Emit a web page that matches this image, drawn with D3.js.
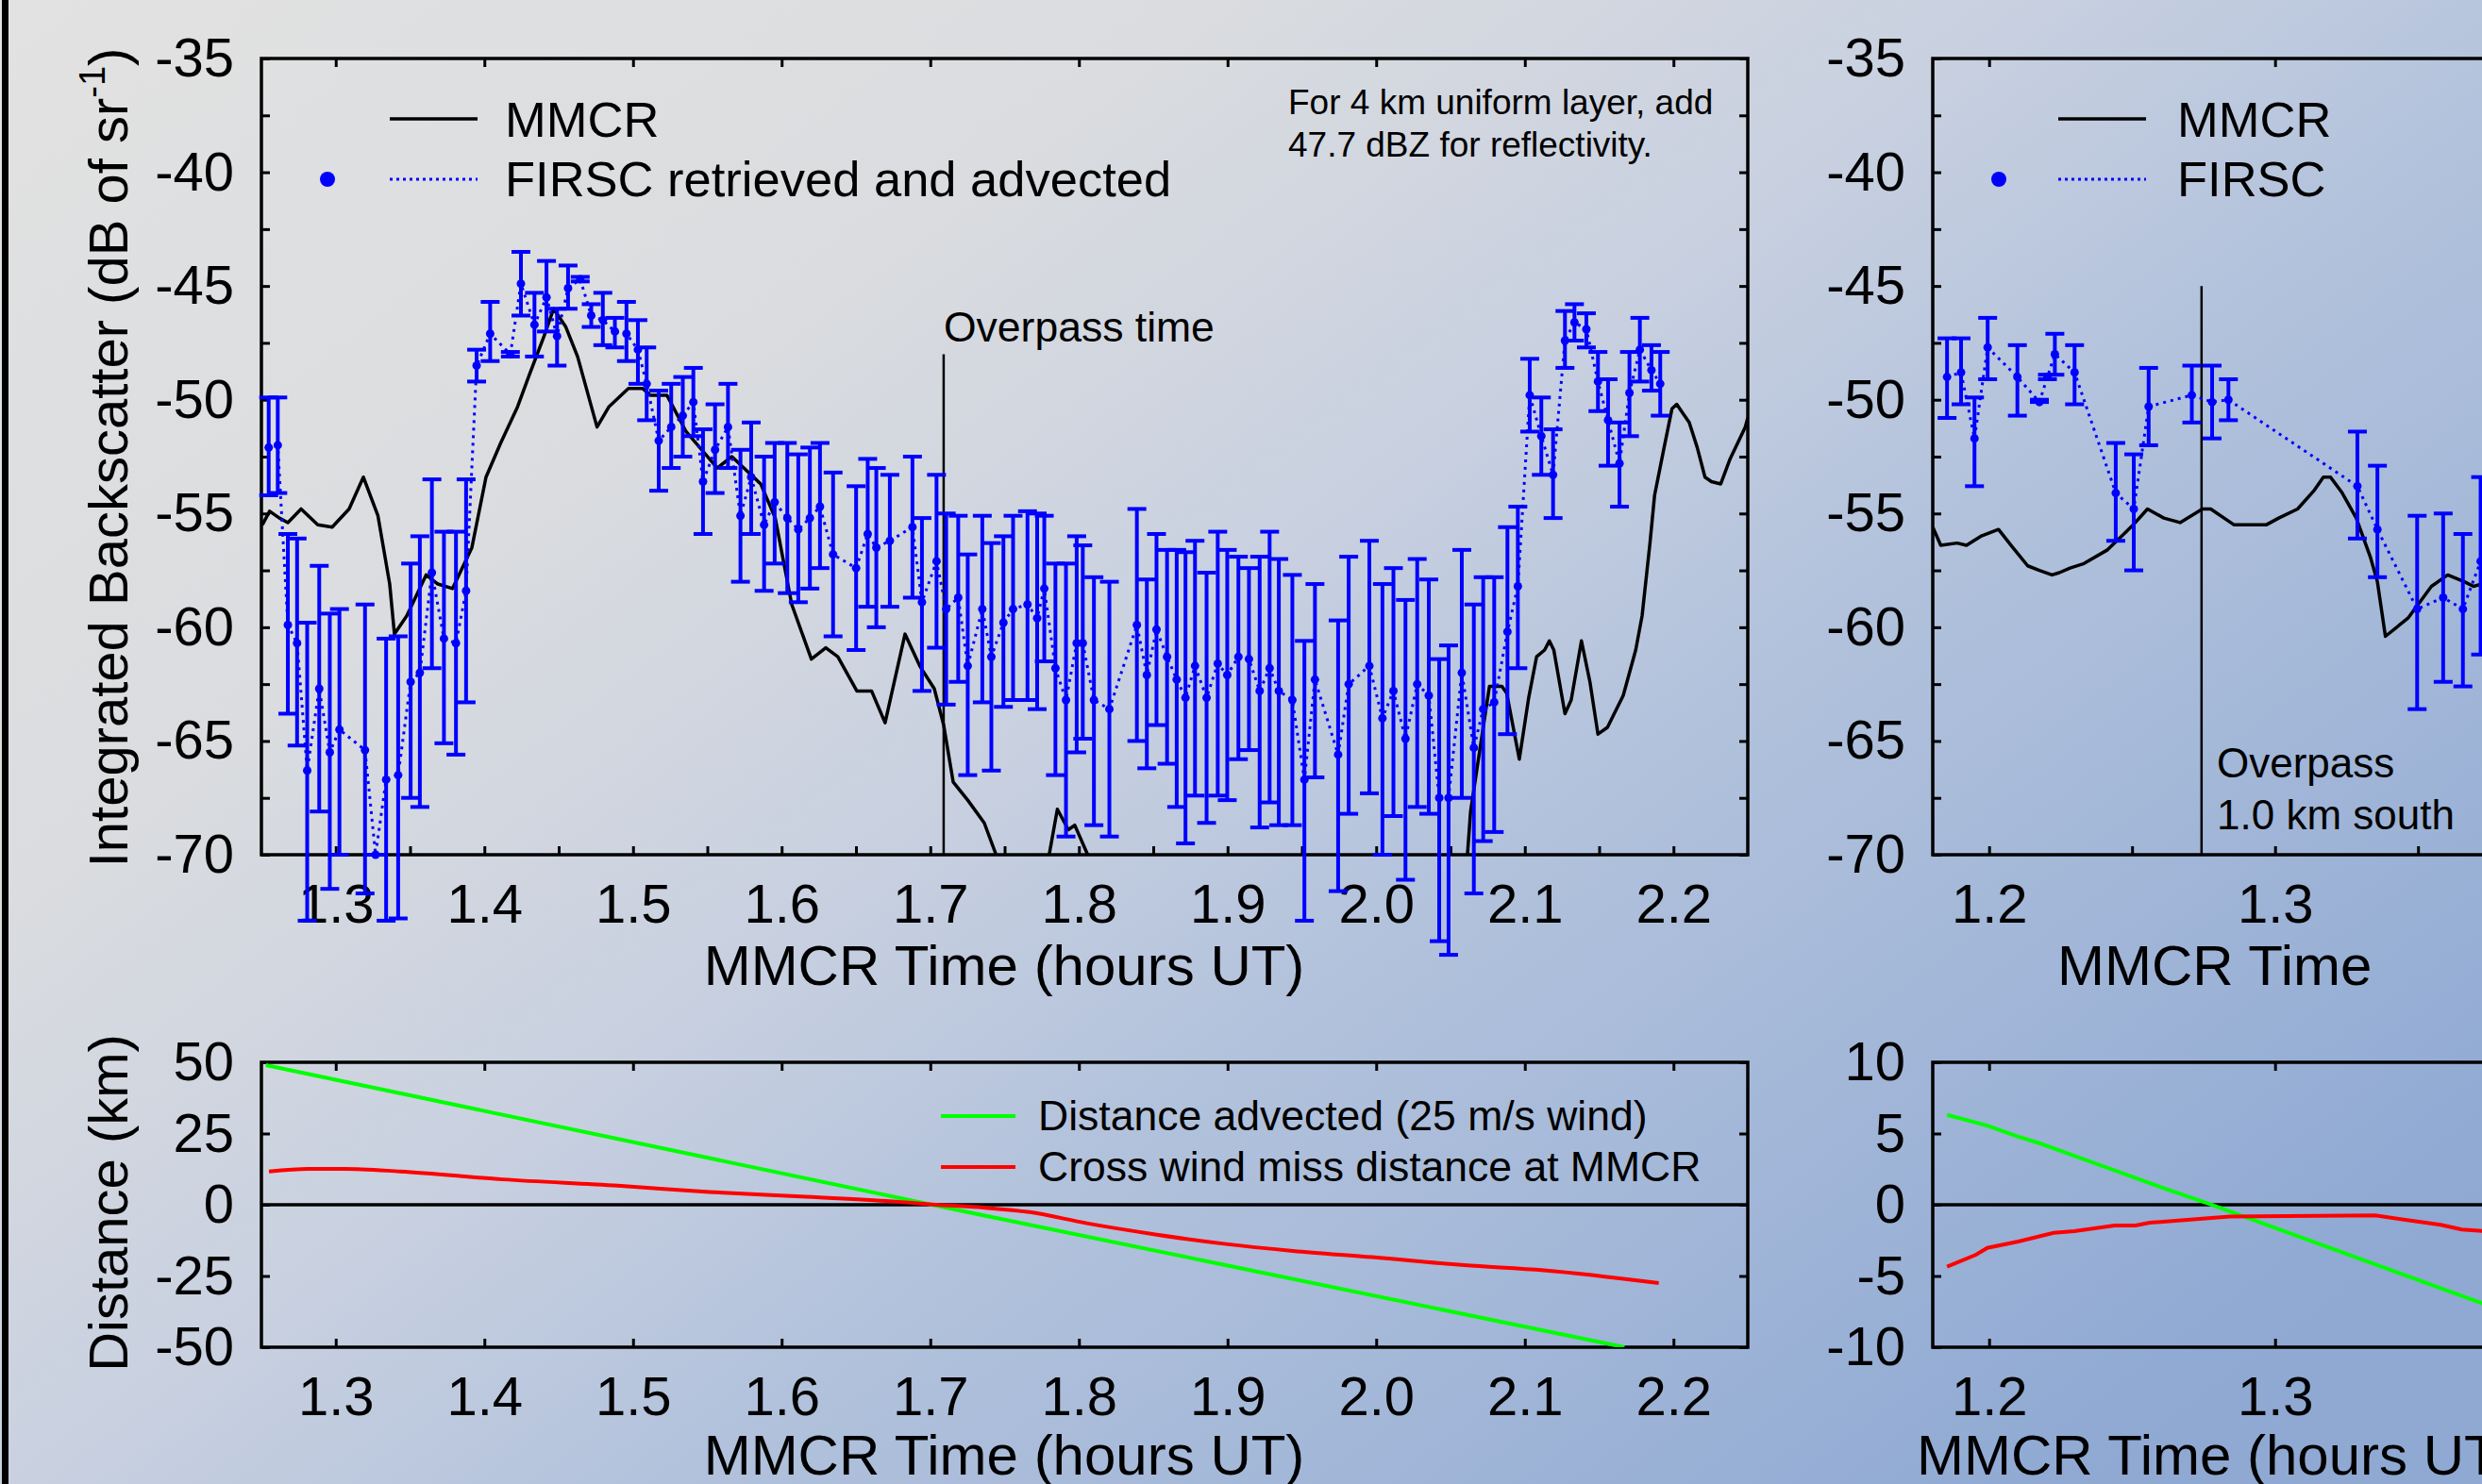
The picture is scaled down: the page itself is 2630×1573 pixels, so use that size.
<!DOCTYPE html>
<html>
<head>
<meta charset="utf-8">
<script src="https://cdnjs.cloudflare.com/ajax/libs/d3/7.8.5/d3.min.js"></script>
<style>
  html, body { margin: 0; padding: 0; overflow: hidden; }
  svg { display: block; font-family: "Liberation Sans", Arial, sans-serif; }
</style>
</head>
<body>
<svg id="chart" width="2630" height="1573"></svg>
<script>
// ---- main panel: MMCR integrated backscatter (dB)
const mmcrTime = [1.2506,1.2555,1.2621,1.2678,1.2767,1.2879,1.2976,1.3090,1.3186,1.3284,
  1.3363,1.3395,1.3478,1.3608,1.3687,1.3786,1.3916,1.4011,1.4110,1.4224,
  1.4303,1.4402,1.4466,1.4548,1.4627,1.4758,1.4839,1.4969,1.5065,1.5115,
  1.5228,1.5357,1.5567,1.5665,1.5859,1.5957,1.6068,1.6200,1.6297,1.6378,
  1.6506,1.6605,1.6696,1.6830,1.6929,1.7027,1.7090,1.7154,1.7252,1.7363,
  1.7443,1.7522,1.7725,1.7800,1.7855,1.7929,1.7972,1.8059,1.8138,2.0519,
  2.0614,2.0635,2.0720,2.0762,2.0846,2.0878,2.0963,2.1026,2.1079,2.1133,
  2.1165,2.1195,2.1270,2.1312,2.1381,2.1438,2.1492,2.1556,2.1662,2.1746,
  2.1789,2.1842,2.1873,2.1937,2.1990,2.2022,2.2064,2.2106,2.2160,2.2212,
  2.2255,2.2318,2.2381,2.2483,2.2500];
const mmcrDb = [-55.5,-54.9,-55.2,-55.4,-54.8,-55.5,-55.6,-54.8,-53.4,-55.1,
  -58.1,-60.3,-59.5,-57.7,-58.1,-58.3,-56.5,-53.4,-51.9,-50.3,
  -48.9,-47.2,-46.0,-46.8,-48.1,-51.2,-50.3,-49.5,-49.5,-49.8,
  -49.8,-51.4,-53.0,-52.5,-53.7,-55.2,-59.0,-61.4,-60.9,-61.3,
  -62.8,-62.8,-64.2,-60.3,-61.7,-62.7,-64.3,-66.8,-67.6,-68.6,
  -70.0,-71.5,-72.0,-70.0,-68.0,-68.9,-68.7,-70.0,-72.0,-72.0,
  -70.0,-68.1,-64.4,-62.6,-62.6,-62.9,-65.8,-63.1,-61.3,-61.0,
  -60.6,-61.0,-63.8,-63.2,-60.6,-62.4,-64.7,-64.4,-63.0,-61.0,
  -59.5,-56.3,-54.2,-52.1,-50.4,-50.2,-50.6,-51.0,-52.1,-53.4,
  -53.6,-53.7,-52.6,-51.2,-50.8];

// ---- main panel: FIRSC retrieved and advected (value, upper, lower)
const firscTime = [1.2549,1.2610,1.2678,1.2740,1.2808,1.2889,1.2960,1.3025,1.3197,1.3268,
  1.3339,1.3420,1.3504,1.3566,1.3647,1.3728,1.3809,1.3877,1.3948,1.4039,
  1.4175,1.4246,1.4337,1.4418,1.4489,1.4563,1.4645,1.4719,1.4797,1.4878,
  1.4956,1.5033,1.5092,1.5173,1.5257,1.5335,1.5406,1.5471,1.5552,1.5639,
  1.5723,1.5795,1.5882,1.5953,1.6038,1.6112,1.6190,1.6258,1.6346,1.6501,
  1.6579,1.6637,1.6728,1.6880,1.6944,1.7042,1.7107,1.7188,1.7252,1.7350,
  1.7411,1.7492,1.7557,1.7654,1.7719,1.7767,1.7842,1.7913,1.7985,1.8026,
  1.8101,1.8205,1.8390,1.8457,1.8522,1.8593,1.8658,1.8717,1.8781,1.8859,
  1.8934,1.8998,1.9073,1.9144,1.9216,1.9283,1.9345,1.9436,1.9517,1.9588,
  1.9744,1.9815,1.9954,2.0042,2.0116,2.0197,2.0276,2.0354,2.0424,2.0487,
  2.0576,2.0657,2.0720,2.0794,2.0883,2.0953,2.1033,2.1111,2.1190,2.1270,
  2.1334,2.1414,2.1492,2.1560,2.1637,2.1704,2.1774,2.1852,2.1911];
const firscDb = [-52.1,-52.0,-59.9,-60.7,-66.3,-62.7,-65.5,-64.5,-65.4,-70.0,
  -66.7,-66.5,-62.4,-62.0,-57.6,-60.5,-60.7,-58.4,-48.5,-47.1,
  -48.0,-44.9,-46.7,-45.5,-47.2,-45.1,-44.7,-46.3,-46.5,-47.0,
  -47.1,-47.8,-49.3,-51.8,-51.2,-50.7,-50.1,-53.6,-52.2,-51.2,
  -55.1,-53.4,-55.5,-54.5,-55.2,-55.7,-55.2,-54.7,-56.8,-57.4,
  -55.9,-56.5,-56.2,-55.6,-58.9,-57.1,-59.2,-58.7,-61.7,-59.2,
  -61.3,-59.8,-59.2,-59.0,-59.6,-58.3,-61.8,-63.2,-60.7,-60.7,
  -63.2,-63.6,-59.9,-62.1,-60.1,-61.3,-62.3,-63.1,-61.7,-63.1,
  -61.6,-62.1,-61.3,-61.4,-62.8,-61.8,-62.8,-63.2,-66.7,-62.3,
  -65.6,-62.5,-61.7,-64.0,-62.8,-64.9,-62.5,-63.0,-67.5,-67.5,
  -62.0,-65.3,-63.6,-63.3,-60.2,-58.2,-49.8,-51.6,-53.3,-47.4,
  -46.6,-46.9,-49.2,-50.9,-52.8,-49.7,-47.8,-48.7,-49.3];
const firscHigh = [-49.9,-49.9,-55.9,-56.1,-59.8,-57.3,-59.4,-59.2,-59.0,-70.0,
  -60.5,-60.4,-57.2,-56.0,-53.5,-55.8,-55.8,-53.5,-47.8,-45.7,
  -47.9,-43.5,-45.3,-43.9,-46.0,-44.1,-44.6,-45.8,-45.3,-46.4,
  -45.7,-46.5,-47.7,-49.6,-49.3,-49.0,-48.6,-51.3,-50.2,-49.3,
  -52.2,-51.0,-52.5,-51.9,-51.9,-52.4,-52.1,-51.9,-53.2,-53.8,
  -52.6,-53.0,-53.3,-52.5,-55.2,-53.3,-55.0,-55.1,-56.8,-55.1,
  -56.3,-56.0,-55.1,-54.9,-55.0,-55.1,-57.2,-57.2,-56.0,-56.4,
  -57.8,-58.0,-54.8,-57.9,-55.9,-56.6,-56.6,-56.7,-56.2,-57.6,
  -55.8,-56.6,-56.9,-57.4,-56.9,-55.8,-57.0,-57.7,-60.6,-58.1,
  -59.7,-56.9,-56.2,-58.1,-57.4,-58.8,-57.0,-57.9,-61.4,-60.8,
  -56.6,-59.0,-57.8,-57.8,-55.6,-54.7,-48.2,-49.9,-51.3,-46.1,
  -45.8,-46.2,-47.9,-49.1,-51.0,-47.9,-46.4,-47.6,-47.9];
const firscLow = [-54.2,-54.1,-63.8,-65.2,-72.9,-68.1,-71.5,-70.0,-71.7,-70.0,
  -72.9,-72.8,-67.5,-67.9,-61.8,-65.1,-65.6,-63.3,-49.2,-48.3,
  -48.1,-46.3,-48.1,-47.0,-48.5,-46.0,-44.8,-46.8,-47.6,-47.7,
  -48.3,-49.3,-50.9,-54.0,-53.0,-52.5,-51.6,-55.9,-54.1,-53.0,
  -58.0,-55.9,-58.4,-57.2,-58.5,-58.9,-58.3,-57.4,-60.4,-61.0,
  -59.1,-60.0,-59.1,-58.7,-62.8,-60.9,-63.4,-62.4,-66.5,-63.3,
  -66.3,-63.5,-63.2,-63.2,-63.6,-61.5,-66.5,-69.2,-65.5,-64.9,
  -68.7,-69.2,-65.0,-66.2,-64.3,-66.0,-67.9,-69.5,-67.4,-68.6,
  -67.4,-67.6,-65.8,-65.4,-68.8,-67.7,-68.7,-68.7,-72.9,-66.6,
  -71.6,-68.2,-67.3,-70.0,-68.3,-71.1,-67.9,-68.2,-73.8,-74.4,
  -67.5,-71.7,-69.4,-69.0,-64.7,-61.8,-51.4,-53.3,-55.2,-48.6,
  -47.4,-47.7,-50.5,-52.9,-54.7,-51.6,-49.2,-49.6,-50.7];

// ---- right panel
const rMmcrTime = [1.1803,1.1831,1.1888,1.1921,1.1971,1.2033,1.2077,1.2135,1.2176,1.2220,
  1.2246,1.2283,1.2332,1.2414,1.2463,1.2504,1.2554,1.2611,1.2668,1.2746,
  1.2775,1.2857,1.2923,1.2969,1.3013,1.3079,1.3136,1.3169,1.3194,1.3235,
  1.3284,1.3333,1.3358,1.3386,1.3465,1.3547,1.3604,1.3662,1.3694,1.3724];
const rMmcrDb = [-55.6,-56.4,-56.3,-56.4,-56.0,-55.7,-56.4,-57.3,-57.5,-57.7,
  -57.6,-57.4,-57.2,-56.6,-56.0,-55.5,-54.8,-55.2,-55.4,-54.8,
  -54.8,-55.5,-55.5,-55.5,-55.2,-54.8,-54.0,-53.4,-53.4,-54.1,
  -55.2,-56.9,-58.0,-60.4,-59.6,-58.2,-57.7,-58.0,-58.2,-58.1];
const rFirscTime = [1.1853,1.1902,1.1949,1.1995,1.2099,1.2176,1.2204,1.2230,1.2299,1.2443,
  1.2506,1.2558,1.2709,1.2780,1.2837,1.3288,1.3358,1.3497,1.3588,1.3657,1.3719];
const rFirscDb = [-49.0,-48.8,-51.7,-47.7,-49.0,-50.1,-49.0,-48.0,-48.8,-54.1,
  -54.8,-50.3,-49.8,-50.1,-50.0,-53.8,-55.7,-59.2,-58.7,-59.2,-57.1];
const rFirscHigh = [-47.3,-47.3,-49.9,-46.4,-47.6,-50.0,-48.9,-47.1,-47.6,-51.9,
  -52.4,-48.6,-48.5,-48.5,-49.1,-51.4,-52.9,-55.1,-55.0,-55.9,-53.4];
const rFirscLow = [-50.8,-50.2,-53.8,-49.1,-50.7,-50.1,-49.1,-48.9,-50.2,-56.2,
  -57.5,-52.0,-51.0,-51.7,-50.9,-56.1,-57.8,-63.6,-62.4,-62.6,-61.2];

// ---- distance panels (km)
const advTime = [1.253, 1.701, 2.167];
const advKm = [49, 0, -50];
const missTime = [1.2551,1.2817,1.3052,1.3433,1.4125,1.4897,1.5513,1.6129,1.6744,1.7014,
  1.7357,1.7668,1.8052,1.8513,1.8976,1.9440,1.9976,2.0592,2.1129,2.1901];
const missKm = [11.7,12.6,12.6,11.7,8.9,6.7,4.5,2.9,1.2,0.1,
  -1.0,-2.6,-6.5,-10.4,-13.7,-16.2,-18.4,-21.2,-23.0,-27.5];
const rAdvTime = [1.1853,1.1994,1.2102,1.2176,1.2232,1.2569,1.2775,1.3726,1.3760];
const rAdvKm = [6.31,5.56,4.77,4.32,3.91,1.46,0.02,-6.93,-7.2];
const rMissTime = [1.1853,1.1954,1.1994,1.2102,1.2226,1.2298,1.2439,1.2512,1.2562,1.2841,1.3350,1.3579,1.3653,1.3760];
const rMissKm = [-4.35,-3.51,-3.03,-2.58,-1.97,-1.86,-1.46,-1.46,-1.26,-0.82,-0.75,-1.41,-1.74,-1.88];

// ---- ticks
const mainXMajor = [1.3,1.4,1.5,1.6,1.7,1.8,1.9,2.0,2.1,2.2];
const mainXMinor = [1.3,1.35,1.4,1.45,1.5,1.55,1.6,1.65,1.7,1.75,1.8,1.85,1.9,1.95,2.0,2.05,2.1,2.15,2.2];
const rightXMajor = [1.2,1.3];
const rightXMinor = [1.2,1.25,1.3,1.35];
const dbMajor = [-35,-40,-45,-50,-55,-60,-65,-70];
const dbMinor = [-35,-37.5,-40,-42.5,-45,-47.5,-50,-52.5,-55,-57.5,-60,-62.5,-65,-67.5,-70];
const distTicks = [50,25,0,-25,-50];
const rDistTicks = [10,5,0,-5,-10];

const overpassMain = 1.709, overpassRight = 1.2743;

const W = 2630, H = 1573;
const svg = d3.select('#chart');
const defs = svg.append('defs');

const grad = defs.append('linearGradient').attr('id', 'bg')
  .attr('x1', 0).attr('y1', 0).attr('x2', 1).attr('y2', 0.8);
[[0, '#e2e2e2'], [0.3, '#dadcdf'], [0.5, '#c8d0e0'], [0.65, '#b2c2dc'], [1, '#8fa9d3']]
  .forEach(([o, c]) => grad.append('stop').attr('offset', o).attr('stop-color', c));
svg.append('rect').attr('width', W).attr('height', H).attr('fill', 'url(#bg)');
svg.append('rect').attr('x', 2).attr('y', 0).attr('width', 7).attr('height', H).attr('fill', '#000');

// scales
const xMain = d3.scaleLinear().domain([1.25, 2.25]).range([277, 1852]);
const xRight = d3.scaleLinear().domain([1.1803, 1.70]).range([2048, 2048 + 0.5197 * 3030]);
const yDb = d3.scaleLinear().domain([-70, -35]).range([906, 62]);
const yDist = d3.scaleLinear().domain([-50, 50]).range([1428, 1126]);
const yDistR = d3.scaleLinear().domain([-10, 10]).range([1428, 1126]);

const fmtX = d => d3.format('.1f')(d);
const fmtY = d => String(d);

function clip(id, x, y) {
  defs.append('clipPath').attr('id', id).append('rect')
    .attr('x', x.range()[0]).attr('y', y.range()[1])
    .attr('width', x.range()[1] - x.range()[0]).attr('height', y.range()[0] - y.range()[1]);
}
clip('cMain', xMain, yDb);
clip('cRight', xRight, yDb);
clip('cDist', xMain, yDist);
clip('cDistR', xRight, yDistR);

function styleAxis(g, size) {
  g.attr('font-size', size).attr('font-family', '"Liberation Sans", Arial, sans-serif');
  g.select('.domain').remove();
  g.selectAll('.tick line').attr('stroke-width', 3);
}

function frame(x, y, yMajor, yMinor, xMajor, xMinor, topMinor) {
  const g = svg.append('g');
  const [x0, x1] = x.range(), [y1, y0] = y.range();
  g.append('g').attr('transform', `translate(0,${y1})`)
    .call(d3.axisBottom(x).tickValues(xMinor).tickSizeInner(-9).tickSizeOuter(0).tickPadding(31)
      .tickFormat(d => xMajor.some(m => Math.abs(m - d) < 1e-6) ? fmtX(d) : ''))
    .call(a => styleAxis(a, 58));
  g.append('g').attr('transform', `translate(0,${y0})`)
    .call(d3.axisTop(x).tickValues(topMinor).tickSizeInner(-9).tickSizeOuter(0).tickFormat(''))
    .call(a => styleAxis(a, 58));
  g.append('g').attr('transform', `translate(${x0},0)`)
    .call(d3.axisLeft(y).tickValues(yMinor).tickSizeInner(-9).tickSizeOuter(0).tickPadding(29)
      .tickFormat(d => yMajor.includes(d) ? fmtY(d) : ''))
    .call(a => styleAxis(a, 58));
  g.append('g').attr('transform', `translate(${x1},0)`)
    .call(d3.axisRight(y).tickValues(yMinor).tickSizeInner(-9).tickSizeOuter(0).tickFormat(''))
    .call(a => styleAxis(a, 58));
  g.append('rect').attr('x', x0).attr('y', y0).attr('width', x1 - x0).attr('height', y1 - y0)
    .attr('fill', 'none').attr('stroke', '#000').attr('stroke-width', 3.5);
  return g;
}

function lineOf(x, y, xs, ys) {
  return d3.line().x(i => x(xs[i])).y(i => y(ys[i]))(d3.range(xs.length));
}

function firscLayer(x, y, ts, vs, hs, ls, clipId) {
  const g = svg.append('g');
  g.append('path').attr('clip-path', `url(#${clipId})`)
    .attr('d', lineOf(x, y, ts, vs))
    .attr('fill', 'none').attr('stroke', '#0000ff').attr('stroke-width', 3)
    .attr('stroke-dasharray', '3,5');
  const eb = g.selectAll('g.eb').data(d3.range(ts.length)).join('g').attr('class', 'eb')
    .attr('stroke', '#0000ff').attr('stroke-width', 4);
  eb.append('line').attr('x1', i => x(ts[i])).attr('x2', i => x(ts[i]))
    .attr('y1', i => y(hs[i])).attr('y2', i => y(ls[i]));
  eb.append('line').attr('x1', i => x(ts[i]) - 10).attr('x2', i => x(ts[i]) + 10)
    .attr('y1', i => y(hs[i])).attr('y2', i => y(hs[i]));
  eb.append('line').attr('x1', i => x(ts[i]) - 10).attr('x2', i => x(ts[i]) + 10)
    .attr('y1', i => y(ls[i])).attr('y2', i => y(ls[i]));
  g.selectAll('circle').data(d3.range(ts.length)).join('circle')
    .attr('cx', i => x(ts[i])).attr('cy', i => y(vs[i])).attr('r', 4.5).attr('fill', '#0000ff');
}

function mmcrLayer(x, y, ts, vs, clipId) {
  svg.append('path').attr('clip-path', `url(#${clipId})`)
    .attr('d', lineOf(x, y, ts, vs))
    .attr('fill', 'none').attr('stroke', '#000').attr('stroke-width', 3.5)
    .attr('stroke-linejoin', 'round');
}

function overpass(x, y, t, fromDb) {
  svg.append('line').attr('x1', x(t)).attr('x2', x(t)).attr('y1', y(fromDb)).attr('y2', y(-70))
    .attr('stroke', '#000').attr('stroke-width', 2.5);
}

function txt(x, y, s, size, anchor) {
  return svg.append('text').attr('x', x).attr('y', y).attr('font-size', size)
    .attr('text-anchor', anchor || 'start').attr('fill', '#000').text(s);
}

// ---- top panels
frame(xMain, yDb, dbMajor, dbMinor, mainXMajor, mainXMinor, mainXMajor);
frame(xRight, yDb, dbMajor, dbMinor, rightXMajor, rightXMinor, rightXMajor);

overpass(xMain, yDb, overpassMain, -48.0);
overpass(xRight, yDb, overpassRight, -45.0);

mmcrLayer(xMain, yDb, mmcrTime, mmcrDb, 'cMain');
firscLayer(xMain, yDb, firscTime, firscDb, firscHigh, firscLow, 'cMain');
mmcrLayer(xRight, yDb, rMmcrTime, rMmcrDb, 'cRight');
firscLayer(xRight, yDb, rFirscTime, rFirscDb, rFirscHigh, rFirscLow, 'cRight');

// legends (top)
function legend(xDot, xLine, xText, label2) {
  svg.append('line').attr('x1', xLine).attr('x2', xLine + 93).attr('y1', 126).attr('y2', 126)
    .attr('stroke', '#000').attr('stroke-width', 3.5);
  txt(xText, 145, 'MMCR', 52.5);
  svg.append('circle').attr('cx', xDot).attr('cy', 190).attr('r', 8).attr('fill', '#0000ff');
  svg.append('line').attr('x1', xLine).attr('x2', xLine + 93).attr('y1', 190).attr('y2', 190)
    .attr('stroke', '#0000ff').attr('stroke-width', 3).attr('stroke-dasharray', '3,4');
  txt(xText, 208, label2, 52.5);
}
legend(347, 413, 535, 'FIRSC retrieved and advected');
legend(2118, 2181, 2307, 'FIRSC');

txt(1365, 121, 'For 4 km uniform layer, add', 37);
txt(1365, 166, '47.7 dBZ for reflectivity.', 37);
txt(1000, 362, 'Overpass time', 44.5);
txt(2349, 824, 'Overpass', 44);
txt(2349, 879, '1.0 km south', 44);

// axis titles (top)
txt(1064, 1044, 'MMCR Time (hours UT)', 60, 'middle');
txt(2180, 1044, 'MMCR Time', 60);

const yl = svg.append('text').attr('transform', 'translate(135,485) rotate(-90)')
  .attr('font-size', 58).attr('text-anchor', 'middle').attr('fill', '#000');
yl.append('tspan').text('Integrated Backscatter (dB of sr');
yl.append('tspan').attr('font-size', 38).attr('dy', -24).text('-1');
yl.append('tspan').attr('dy', 24).text(')');

// ---- bottom panels
frame(xMain, yDist, distTicks, distTicks, mainXMajor, mainXMajor, mainXMajor);
frame(xRight, yDistR, rDistTicks, rDistTicks, rightXMajor, rightXMajor, rightXMajor);

function zeroLine(x, y) {
  svg.append('line').attr('x1', x.range()[0]).attr('x2', x.range()[1])
    .attr('y1', y(0)).attr('y2', y(0)).attr('stroke', '#000').attr('stroke-width', 3.5);
}
zeroLine(xMain, yDist);
zeroLine(xRight, yDistR);

function distLine(x, y, ts, vs, color, clipId, curve) {
  svg.append('path').attr('clip-path', `url(#${clipId})`)
    .attr('d', d3.line().curve(curve).x(i => x(ts[i])).y(i => y(vs[i]))(d3.range(ts.length)))
    .attr('fill', 'none').attr('stroke', color).attr('stroke-width', 4);
}
distLine(xMain, yDist, advTime, advKm, '#00ff00', 'cDist', d3.curveLinear);
distLine(xMain, yDist, missTime, missKm, '#ff0000', 'cDist', d3.curveMonotoneX);
distLine(xRight, yDistR, rAdvTime, rAdvKm, '#00ff00', 'cDistR', d3.curveLinear);
distLine(xRight, yDistR, rMissTime, rMissKm, '#ff0000', 'cDistR', d3.curveLinear);

svg.append('line').attr('x1', 997).attr('x2', 1076).attr('y1', 1183).attr('y2', 1183)
  .attr('stroke', '#00ff00').attr('stroke-width', 4);
svg.append('line').attr('x1', 997).attr('x2', 1076).attr('y1', 1237).attr('y2', 1237)
  .attr('stroke', '#ff0000').attr('stroke-width', 4);
txt(1100, 1198, 'Distance advected (25 m/s wind)', 44.5);
txt(1100, 1252, 'Cross wind miss distance at MMCR', 44.5);

txt(1064, 1563, 'MMCR Time (hours UT)', 60, 'middle');
txt(2031, 1563, 'MMCR Time (hours UT)', 60);

svg.append('text').attr('transform', 'translate(135,1275) rotate(-90)')
  .attr('font-size', 58).attr('text-anchor', 'middle').attr('fill', '#000')
  .text('Distance (km)');
</script>
</body>
</html>
